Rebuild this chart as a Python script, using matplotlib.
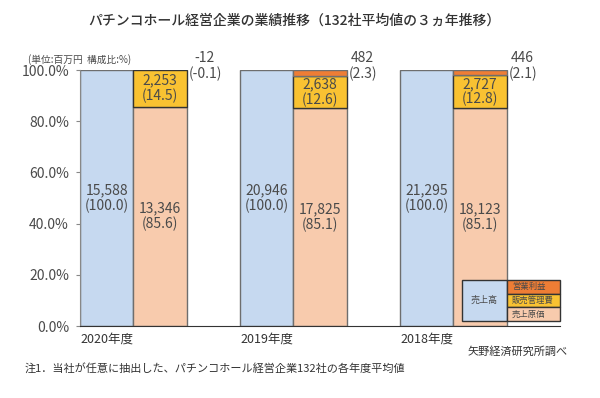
import matplotlib.pyplot as plt
from matplotlib.patches import Rectangle

plt.rcParams['font.family'] = ['Noto Sans CJK JP', 'DejaVu Sans']

years = ["2020年度", "2019年度", "2018年度"]
sales = [15588, 20946, 21295]
cost = [13346, 17825, 18123]
sga = [2253, 2638, 2727]
op_profit = [-12, 482, 446]
cost_pct = [85.6, 85.1, 85.1]
sga_pct = [14.5, 12.6, 12.8]
op_pct = [-0.1, 2.3, 2.1]

c_blue = "#C6D9F0"
c_peach = "#F8CBAD"
c_yellow = "#F9C232"
c_orange = "#EE7D35"
c_edge = "#6e6e6e"
c_text = "#4a4a4a"

fig = plt.figure(figsize=(6, 3.98), dpi=100)
ax = fig.add_axes([80 / 600, 72 / 398, 480 / 600, 256 / 398])

w = 1 / 3
for i in range(len(years)):
    x0 = i
    x1 = i + w
    ax.bar(x0, 100, width=w, align="edge", color=c_blue, edgecolor=c_edge, linewidth=1)
    ax.bar(x1, cost_pct[i], width=w, align="edge", color=c_peach, edgecolor=c_edge, linewidth=1)
    op_h = max(op_pct[i], 0)
    sga_h = 100 - cost_pct[i] - op_h
    ax.bar(x1, sga_h, bottom=cost_pct[i], width=w, align="edge", color=c_yellow,
           edgecolor="#333333", linewidth=1)
    if op_h > 0:
        ax.bar(x1, op_h, bottom=100 - op_h, width=w, align="edge", color=c_orange,
               edgecolor=c_edge, linewidth=1)

    ax.text(x0 + w / 2, 50, f"{sales[i]:,}\n(100.0)", ha="center", va="center",
            fontsize=10, color=c_text, linespacing=1.1)
    ax.text(x1 + w / 2, cost_pct[i] / 2, f"{cost[i]:,}\n({cost_pct[i]:.1f})", ha="center",
            va="center", fontsize=10, color=c_text, linespacing=1.1)
    ax.text(x1 + w / 2, cost_pct[i] + sga_h / 2, f"{sga[i]:,}\n({sga_pct[i]:.1f})",
            ha="center", va="center", fontsize=10, color=c_text, linespacing=1.1)
    ax.text(x1 + w + 0.01, 101.5, f"{op_profit[i]:,}\n({op_pct[i]:.1f})", ha="left",
            va="center", fontsize=10, color=c_text, linespacing=1.1, multialignment="center")
    ax.text(x0, -2.5, years[i], ha="left", va="top", fontsize=9, color="#333333")

ax.set_xlim(0, 3)
ax.set_ylim(0, 100)
ax.set_yticks([0, 20, 40, 60, 80, 100])
ax.set_yticklabels([f"{v:.1f}%" for v in [0, 20, 40, 60, 80, 100]], fontsize=10, color=c_text)
ax.set_xticks([])
ax.tick_params(axis="y", length=3, color="#888888", pad=5)
for s in ["top", "right"]:
    ax.spines[s].set_visible(False)
ax.spines["left"].set_color("#888888")
ax.spines["bottom"].set_color("#333333")

# legend box
lx0, lx1, lx2 = 462 / 600, 507 / 600, 560 / 600
ly_top, ly_bot = 1 - 280 / 398, 1 - 321 / 398
rh = (ly_top - ly_bot) / 3
fig.patches.append(Rectangle((lx0, ly_bot), lx1 - lx0, ly_top - ly_bot, transform=fig.transFigure,
                             facecolor=c_blue, edgecolor="#333333", linewidth=1))
fig.text((lx0 + lx1) / 2, (ly_top + ly_bot) / 2, "売上高", ha="center", va="center", fontsize=6.5, color=c_text)
leg_items = [("営業利益", c_orange), ("販売管理費", c_yellow), ("売上原価", c_peach)]
for k, (lab, col) in enumerate(leg_items):
    y = ly_top - (k + 1) * rh
    fig.patches.append(Rectangle((lx1, y), lx2 - lx1, rh, transform=fig.transFigure,
                                 facecolor=col, edgecolor="#333333", linewidth=1))
    fig.text(lx1 + 0.008, y + rh / 2, lab, ha="left", va="center", fontsize=6, color=c_text)

fig.text(294 / 600, 1 - 21 / 398, "パチンコホール経営企業の業績推移（132社平均値の３ヵ年推移）",
         ha="center", va="center", fontsize=10, color="#333333", fontweight="medium")
fig.text(28 / 600, 1 - 60 / 398, "(単位:百万円  構成比:%)", ha="left", va="center", fontsize=7, color=c_text)
fig.text(568 / 600, 1 - 352 / 398, "矢野経済研究所調べ", ha="right", va="center", fontsize=8, color="#333333")
fig.text(25 / 600, 1 - 368 / 398, "注1．当社が任意に抽出した、パチンコホール経営企業132社の各年度平均値",
         ha="left", va="center", fontsize=8, color="#333333")

fig.savefig("out.png", dpi=100, facecolor="white")
